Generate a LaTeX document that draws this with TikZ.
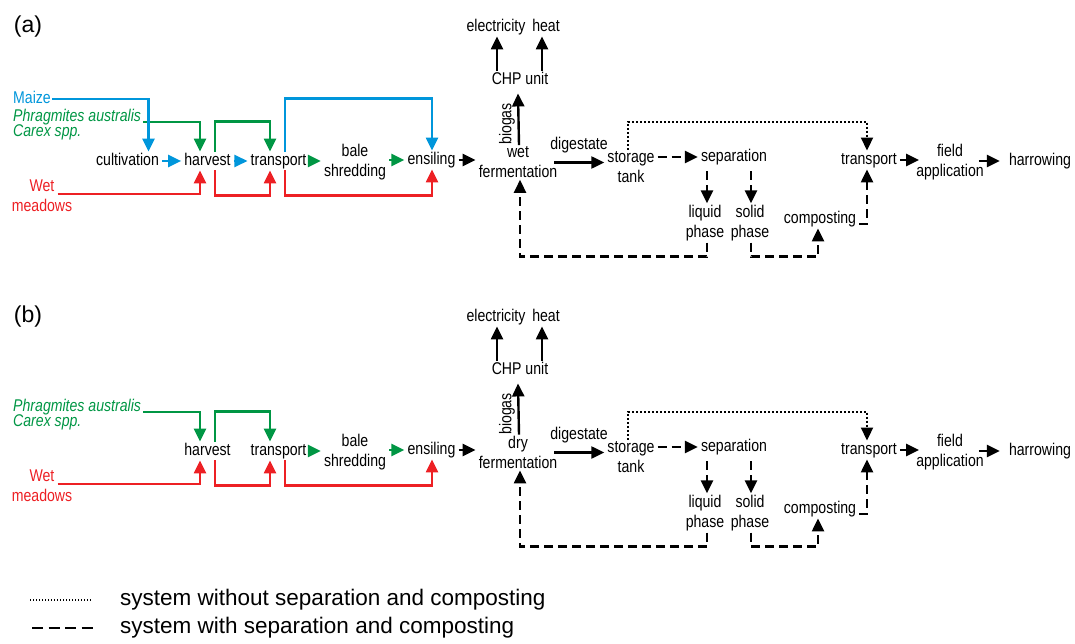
\documentclass[tikz,border=0pt]{standalone}
\usepackage{fontspec}
\setmainfont[FakeStretch=0.83]{Liberation Sans}
\newfontfamily\widefont{Liberation Sans}
\usetikzlibrary{arrows.meta}
\definecolor{cblue}{RGB}{0,150,219}
\definecolor{cgreen}{RGB}{0,150,68}
\definecolor{cred}{RGB}{237,32,36}
\tikzset{
  txt/.style={inner xsep=3pt, inner ysep=1.5pt, font=\fontsize{17}{20}\selectfont, text height=12pt, text depth=3.5pt},
  txtb/.style={inner xsep=3pt, inner ysep=1.5pt, font=\fontsize{17}{20}\selectfont, align=center},
  itxt/.style={txt, anchor=west, inner xsep=0pt, font=\fontsize{17}{20}\selectfont\itshape, text=cgreen},
  panlab/.style={inner sep=0pt, font=\widefont\fontsize{23}{26}\selectfont},
  legtxt/.style={anchor=base west, inner sep=0pt, font=\widefont\fontsize{22.5}{26}\selectfont},
  flow/.style={line width=2.4pt, -{Triangle[length=13pt,width=12pt]}},
  bflow/.style={flow, draw=cblue},
  gflow/.style={flow, draw=cgreen},
  rflow/.style={flow, draw=cred},
  kflow/.style={flow, draw=black},
  dflow/.style={kflow, dash pattern=on 9pt off 5pt},
  tflow/.style={kflow, line width=1.9pt, dash pattern=on 1.8pt off 2.2pt},
}
\newcommand\drawpanel[3]{%
  \node[panlab] (#1lab) at (28,#2+27) {(#1)};
  \node[itxt] (#1phr) at (13,#2+117) {Phragmites australis};
  \node[itxt] (#1car) at (13,#2+132) {Carex spp.};
  \node[txt, text=cred] (#1wet) at (42,#2+187) {Wet};
  \node[txt, text=cred] (#1mea) at (42,#2+207) {meadows};
  \node[txt] (#1harv) at (207.5,#2+161) {harvest};
  \node[txt] (#1tra) at (278.5,#2+161) {transport};
  \node[txtb] (#1bale) at (355,#2+162) {bale\\shredding};
  \node[txt] (#1ens) at (431.5,#2+160) {ensiling};
  \node[txtb] (#1fer) at (518,#2+162.5) {#3\\fermentation};
  \node[txt] (#1chp) at (520,#2+80) {CHP unit};
  \node[txt] (#1ele) at (496,#2+27) {electricity};
  \node[txt] (#1hea) at (546,#2+27) {heat};
  \node[txt, rotate=90] (#1bio) at (507,#2+124) {biogas};
  \node[txt] (#1dig) at (579,#2+145) {digestate};
  \node[txtb] (#1sto) at (631,#2+167) {storage\\tank};
  \node[txt] (#1sep) at (734,#2+157) {separation};
  \node[txtb] (#1liq) at (705,#2+223) {liquid\\phase};
  \node[txtb] (#1sol) at (750,#2+223) {solid\\phase};
  \node[txt] (#1com) at (820,#2+219) {composting};
  \node[txt] (#1tr2) at (869,#2+160) {transport};
  \node[txtb] (#1fie) at (950,#2+162) {field\\application};
  \node[txt] (#1har) at (1040,#2+161) {harrowing};
  % green
  \draw[gflow] ([xshift=2pt,yshift=-1pt]#1phr.base east) -| ([xshift=-7.5pt]#1harv.north);
  \draw[gflow] ([xshift=7.5pt]#1harv.north) -- ++(0,-30) -| ([xshift=-8.5pt]#1tra.north);
  \draw[gflow] (#1tra.east) -- (#1tra.east -| #1bale.west);
  \draw[gflow] (#1bale.east |- #1ens.west) -- (#1ens.west);
  % red
  \draw[rflow] ([yshift=-3pt]#1wet.base east) -| ([xshift=-7.5pt]#1harv.south);
  \draw[rflow] ([xshift=7.5pt]#1harv.south) -- ++(0,25) -| ([xshift=-8.5pt]#1tra.south);
  \draw[rflow] ([xshift=6.5pt]#1tra.south) -- ++(0,25) -| ([xshift=0.5pt]#1ens.south);
  % black
  \draw[kflow] (#1ens.east) -- (#1ens.east -| #1fer.west);
  \draw[kflow] ([xshift=1pt]#1fer.north) -- ([yshift=-4pt]#1fer.north |- #1chp.south);
  \draw[kflow] ([xshift=-23pt]#1chp.north) -- ([xshift=-23pt]#1chp.north |- #1ele.south);
  \draw[kflow] ([xshift=22pt]#1chp.north) -- ([xshift=22pt]#1chp.north |- #1hea.south);
  \draw[kflow] ([xshift=-6pt]#1fer.east) -- (#1fer.east -| #1sto.west);
  \draw[dflow] ([yshift=10pt]#1sto.east) -- ([yshift=10pt]#1sto.east -| #1sep.west);
  \draw[dflow] ([xshift=-27pt,yshift=-5pt]#1sep.south) -- ([xshift=-27pt]#1sep.south |- #1liq.north);
  \draw[dflow] ([xshift=17pt,yshift=-5pt]#1sep.south) -- ([xshift=17pt]#1sep.south |- #1sol.north);
  \draw[dflow] ([xshift=2pt]#1liq.south) -- ++(0,14) -| ([xshift=2pt]#1fer.south);
  \draw[dflow] ([xshift=1pt]#1sol.south) -- ++(0,14) -| ([xshift=-2pt]#1com.south);
  \draw[dflow] ([yshift=-5pt]#1com.east) -| ([xshift=-2pt]#1tr2.south);
  \draw[tflow] ([xshift=-3pt]#1sto.north) -- ++(0,-28) -| ([xshift=-2pt]#1tr2.north);
  \draw[kflow] (#1tr2.east) -- ([xshift=6pt]#1tr2.east -| #1fie.west);
  \draw[kflow] ([xshift=-8pt]#1fie.east |- #1har.west) -- ([xshift=-6pt]#1har.west);
}
\begin{document}
\begin{tikzpicture}[x=1pt, y=-1pt]
  \useasboundingbox (0,0) rectangle (1075,644);
  \drawpanel{a}{0}{wet}
  % panel (a) only: maize line
  \node[txt, anchor=west, inner xsep=0pt, text=cblue] (amai) at (13,99) {Maize};
  \node[txt] (acul) at (127.5,161) {cultivation};
  \draw[bflow] ([xshift=1pt]amai.east) -| ([xshift=21pt]acul.north);
  \draw[bflow] (acul.east) -- (acul.east -| aharv.west);
  \draw[bflow] (aharv.east) -- (aharv.east -| atra.west);
  \draw[bflow] ([xshift=6.5pt]atra.north) -- ++(0,-53) -| ([xshift=0.5pt]aens.north);
  \drawpanel{b}{290}{dry}
  % legend
  \draw[line width=1.4pt, dash pattern=on 1.3pt off 1.7pt] (30,600) -- (92,600);
  \draw[line width=2pt, dash pattern=on 11pt off 5.5pt] (32,628) -- (93,628);
  \node[legtxt] (leg1) at (120,605) {system without separation and composting};
  \node[legtxt] (leg2) at (120,633) {system with separation and composting};
\end{tikzpicture}
\end{document}
